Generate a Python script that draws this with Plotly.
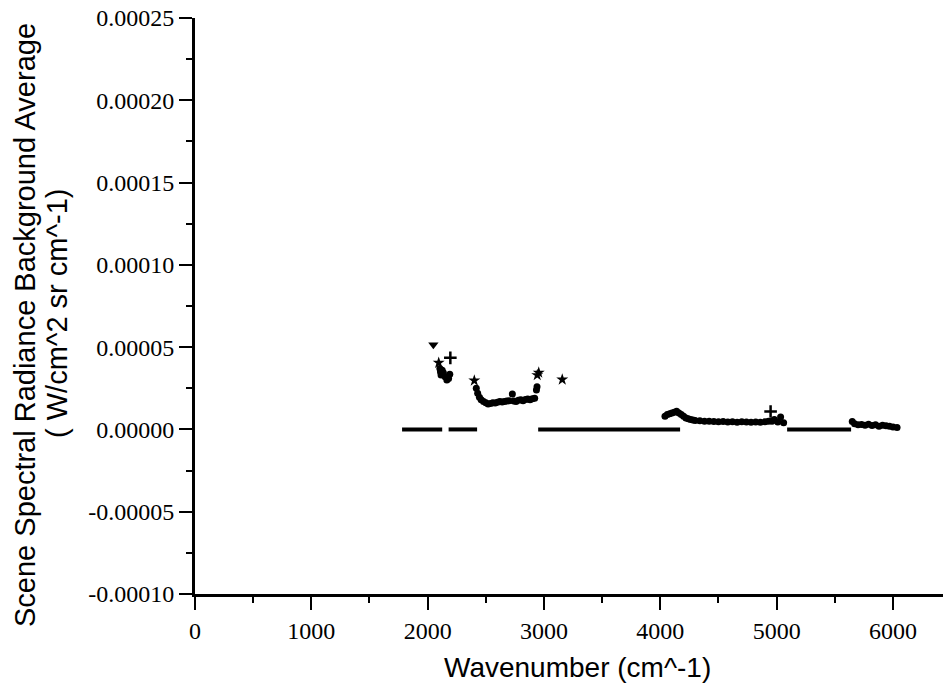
import plotly.graph_objects as go

# ---------------- data ----------------
# zero-level baseline runs (None separates runs)
baseline_x = [1780, 2125, None, 2180, 2425, None, 2950, 4170, None, 5090, 5640]
baseline_y = [0, 0, None, 0, 0, None, 0, 0, None, 0, 0]

# dense measured points
dense_x = [2105, 2110, 2115, 2125, 2135, 2150, 2165, 2180, 2190,
           2418, 2430, 2445, 2460, 2480, 2500, 2520, 2540, 2560, 2580, 2600,
           2620, 2640, 2660, 2680, 2700, 2728, 2740, 2760, 2780, 2800, 2820,
           2840, 2860, 2880, 2900, 2920, 2935, 2940,
           4040, 4060, 4080, 4100, 4120, 4140, 4160, 4180, 4200, 4220, 4240,
           4260, 4280, 4300, 4340, 4380, 4420, 4460, 4500, 4540, 4580, 4620,
           4660, 4700, 4740, 4780, 4820, 4860, 4900, 4930, 4960, 4980, 5010,
           5034, 5060,
           5650, 5670, 5700, 5730, 5760, 5790, 5820, 5850, 5880, 5910, 5940,
           5970, 6000, 6035]
dense_y = [3.7e-5, 3.5e-5, 3.3e-5, 3.6e-5, 3.45e-5, 3.2e-5, 3.0e-5, 3.1e-5, 3.35e-5,
           2.5e-5, 2.2e-5, 1.95e-5, 1.8e-5, 1.7e-5, 1.62e-5, 1.55e-5, 1.58e-5, 1.62e-5, 1.6e-5, 1.65e-5,
           1.7e-5, 1.66e-5, 1.7e-5, 1.72e-5, 1.75e-5, 2.15e-5, 1.72e-5, 1.7e-5, 1.78e-5, 1.8e-5, 1.75e-5,
           1.82e-5, 1.85e-5, 1.8e-5, 1.86e-5, 1.9e-5, 2.4e-5, 2.6e-5,
           8.0e-6, 9.0e-6, 9.5e-6, 1.0e-5, 1.05e-5, 1.1e-5, 1.0e-5, 9.0e-6, 8.0e-6, 7.0e-6, 6.5e-6,
           6.0e-6, 5.8e-6, 5.5e-6, 5.3e-6, 5.0e-6, 5.0e-6, 4.8e-6, 4.6e-6, 4.8e-6, 4.5e-6, 4.6e-6,
           4.4e-6, 4.6e-6, 4.5e-6, 4.3e-6, 4.5e-6, 4.4e-6, 4.6e-6, 5.0e-6, 5.0e-6, 6.0e-6, 4.5e-6,
           7.5e-6, 4.0e-6,
           4.8e-6, 3.5e-6, 2.8e-6, 3.0e-6, 2.5e-6, 3.2e-6, 2.4e-6, 2.8e-6, 2.0e-6, 2.6e-6, 2.2e-6,
           2.0e-6, 1.5e-6, 1.2e-6]

# isolated symbol points
tri_x, tri_y = [2049], [5.15e-5]
star_x = [2095, 2401, 2942, 2955, 3157]
star_y = [4.05e-5, 2.97e-5, 3.3e-5, 3.45e-5, 3.03e-5]
plus_x = [2195, 4948]
plus_y = [4.35e-5, 1.09e-5]

x_tick_vals = [0, 1000, 2000, 3000, 4000, 5000, 6000]
x_tick_text = ["0", "1000", "2000", "3000", "4000", "5000", "6000"]
y_tick_vals = [-0.0001, -0.00005, 0.0, 0.00005, 0.0001, 0.00015, 0.0002, 0.00025]
y_tick_text = ["-0.00010", "-0.00005", "0.00000", "0.00005", "0.00010",
               "0.00015", "0.00020", "0.00025"]

x_title = "Wavenumber (cm^-1)"
y_title_1 = "Scene Spectral Radiance Background Average"
y_title_2 = "( W/cm^2 sr cm^-1)"

# ---------------- figure ----------------
fig = go.Figure()
fig.add_trace(go.Scatter(x=baseline_x, y=baseline_y, mode="lines",
                         line=dict(color="black", width=4), connectgaps=False,
                         hoverinfo="skip"))
fig.add_trace(go.Scatter(x=dense_x, y=dense_y, mode="markers",
                         marker=dict(color="black", size=7, symbol="circle")))
fig.add_trace(go.Scatter(x=tri_x, y=tri_y, mode="markers",
                         marker=dict(color="black", size=9, symbol="triangle-down")))
fig.add_trace(go.Scatter(x=star_x, y=star_y, mode="markers",
                         marker=dict(color="black", size=9, symbol="star")))
fig.add_trace(go.Scatter(x=plus_x, y=plus_y, mode="markers",
                         marker=dict(color="black", size=9, symbol="cross-thin",
                                     line=dict(color="black", width=2.5))))

W, H = 943, 685
L, R, T, B = 195, 0, 18, 91

fig.update_layout(
    width=W, height=H,
    margin=dict(l=L, r=R, t=T, b=B),
    paper_bgcolor="white", plot_bgcolor="white",
    showlegend=False,
)
fig.update_xaxes(
    range=[0, 6430], showgrid=False, zeroline=False,
    showline=True, linecolor="black", linewidth=3,
    ticks="outside", ticklen=13, tickwidth=2, tickcolor="black",
    tickvals=x_tick_vals, ticktext=x_tick_text,
    tickfont=dict(family="Liberation Serif", size=24, color="black"),
    minor=dict(ticks="outside", ticklen=6, tickwidth=2, tickcolor="black", dtick=500,
               showgrid=False),
)
fig.update_yaxes(
    range=[-0.0001, 0.00025], showgrid=False, zeroline=False,
    showline=True, linecolor="black", linewidth=3,
    ticks="outside", ticklen=13, tickwidth=2, tickcolor="black",
    tickvals=y_tick_vals, ticktext=y_tick_text,
    tickfont=dict(family="Liberation Serif", size=24, color="black"),
    minor=dict(ticks="outside", ticklen=6, tickwidth=2, tickcolor="black",
               dtick=0.000025, tick0=0, showgrid=False),
)

# axis titles as annotations placed in pixel-derived paper coords
pw, ph = W - L - R, H - T - B
def px_to_paper_x(px):
    return (px - L) / pw
def px_to_paper_y(py):
    return (H - B - py) / ph

fig.add_annotation(text=x_title, xref="paper", yref="paper",
                   x=px_to_paper_x(577), y=px_to_paper_y(667),
                   showarrow=False, xanchor="center", yanchor="middle",
                   font=dict(family="Liberation Sans", size=28, color="black"))
fig.add_annotation(text=y_title_1, xref="paper", yref="paper",
                   x=px_to_paper_x(25), y=px_to_paper_y(325),
                   showarrow=False, xanchor="center", yanchor="middle", textangle=-90,
                   font=dict(family="Liberation Sans", size=29, color="black"))
fig.add_annotation(text=y_title_2, xref="paper", yref="paper",
                   x=px_to_paper_x(57), y=px_to_paper_y(313),
                   showarrow=False, xanchor="center", yanchor="middle", textangle=-90,
                   font=dict(family="Liberation Sans", size=29, color="black"))

fig.write_html("out.html",
               config={"displayModeBar": False},
               post_script="document.body.style.margin='0';document.body.style.padding='0';")
